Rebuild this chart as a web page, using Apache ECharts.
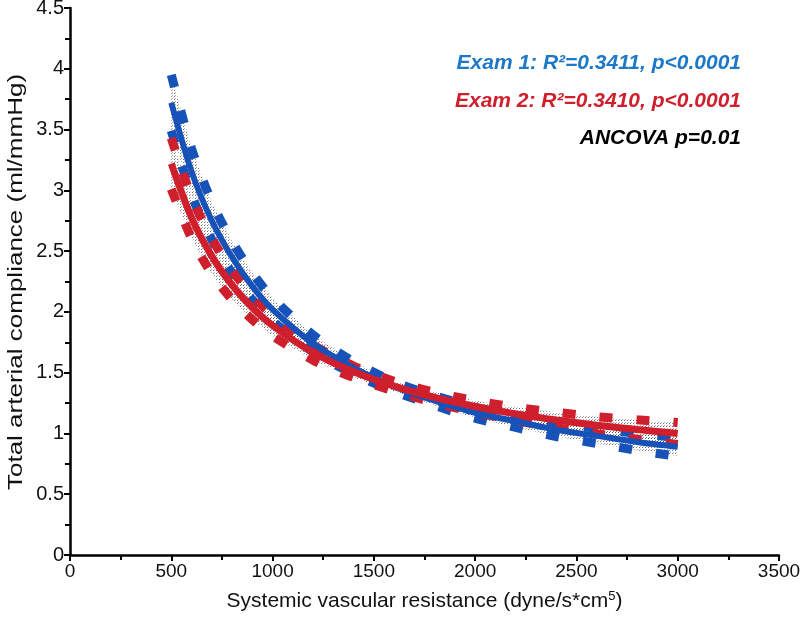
<!DOCTYPE html>
<html><head><meta charset="utf-8">
<script src="https://cdn.jsdelivr.net/npm/echarts@6/dist/echarts.min.js"></script>
<style>html,body{margin:0;padding:0;background:#fff}#c{width:800px;height:622px}</style>
</head><body><div id="c"></div>
<script>
// ---- data ----
const xs        = [500, 600, 700, 800, 900, 1000, 1200, 1400, 1600, 1800, 2000, 2200, 2400, 2600, 2800, 3000];
const exam1Fit  = [3.72, 3.154, 2.75, 2.45, 2.21, 2.02, 1.74, 1.54, 1.385, 1.27, 1.17, 1.10, 1.03, 0.98, 0.93, 0.89];
const exam1Up   = [3.95, 3.344, 2.905, 2.58, 2.32, 2.115, 1.81, 1.59, 1.425, 1.31, 1.215, 1.15, 1.085, 1.042, 1.00, 0.968];
const exam1Lo   = [3.49, 2.964, 2.595, 2.32, 2.10, 1.925, 1.67, 1.49, 1.345, 1.23, 1.125, 1.05, 0.975, 0.918, 0.86, 0.812];
const exam2Fit  = [3.22, 2.776, 2.459, 2.221, 2.036, 1.888, 1.666, 1.507, 1.389, 1.296, 1.222, 1.161, 1.111, 1.068, 1.032, 1.00];
const exam2Up   = [3.43, 2.946, 2.604, 2.341, 2.136, 1.973, 1.729, 1.555, 1.429, 1.338, 1.27, 1.216, 1.174, 1.138, 1.112, 1.09];
const exam2Lo   = [3.01, 2.606, 2.314, 2.101, 1.936, 1.803, 1.603, 1.459, 1.349, 1.254, 1.174, 1.106, 1.048, 0.998, 0.952, 0.91];
const annotations = ['Exam 1: R²=0.3411, p<0.0001', 'Exam 2: R²=0.3410, p<0.0001', 'ANCOVA p=0.01'];
const yTitle = 'Total arterial compliance (ml/mmHg)';

const BLUE = '#1652b8', RED = '#d01f2c';
const FONT = 'Liberation Sans, Arial, Helvetica, sans-serif';

// stipple pattern for confidence-band shading
const pc = document.createElement('canvas');
pc.width = 3; pc.height = 3;
const pctx = pc.getContext('2d');
pctx.fillStyle = 'rgba(70,70,70,0.75)';
pctx.fillRect(0, 0, 1, 1);
pctx.fillStyle = 'rgba(70,70,70,0.45)';
pctx.fillRect(1, 2, 1, 1);

function pairs(ys){ return xs.map((x,i)=>[x, ys[i]]); }

function bandSeries(lo, hi){
  return {
    type: 'custom',
    silent: true,
    z: 1,
    data: xs.map((x,i)=>[x, lo[i], hi[i]]),
    encode: {x: 0, y: [1, 2]},
    renderItem: function(params, api){
      if (params.dataIndex !== 0) return null;
      const top = xs.map((x,i)=>api.coord([x, hi[i]]));
      const bot = xs.map((x,i)=>api.coord([x, lo[i]])).reverse();
      return {
        type: 'polygon',
        shape: {points: top.concat(bot)},
        style: {fill: {image: pc, repeat: 'repeat'}, stroke: null}
      };
    }
  };
}
function dashLine(ys, color){
  return {type:'line', data: pairs(ys), smooth: 0.3, symbol:'none', silent:true, z:3,
    lineStyle:{color: color, width: 9, type: [13, 24], cap: 'butt'}};
}
function fitLine(ys, color, w){
  return {type:'line', data: pairs(ys), smooth: 0.3, symbol:'none', silent:true, z:4,
    lineStyle:{color: color, width: w}};
}

const chart = echarts.init(document.getElementById('c'), null, {renderer:'canvas'});
const annStyle = (txt, col) => ({text: txt, fill: col, font: 'italic bold 21px ' + FONT, align: 'right', verticalAlign: 'middle'});
chart.setOption({
  animation: false,
  backgroundColor: '#fff',
  grid: {left: 70, right: 21, top: 8, bottom: 67, containLabel: false, outerBoundsMode: 'none'},
  xAxis: {
    type: 'value', min: 0, max: 3500, interval: 500,
    name: 'Systemic vascular resistance (dyne/s*cm{sup|5})',
    nameLocation: 'middle', nameGap: 35,
    nameTextStyle: {fontFamily: FONT, fontSize: 21, color: '#111',
      rich: {sup: {fontFamily: FONT, fontSize: 13, color: '#111', padding: [0,0,10,0]}}},
    axisLine: {show: true, lineStyle: {color: '#000', width: 2.5}},
    axisTick: {show: true, length: 6, lineStyle: {color: '#000', width: 2}},
    minorTick: {show: true, splitNumber: 2, length: 5, lineStyle: {color: '#000', width: 2}},
    axisLabel: {fontFamily: FONT, fontSize: 19, color: '#111', margin: 7, formatter: v => String(v)},
    splitLine: {show: false}
  },
  yAxis: {
    type: 'value', min: 0, max: 4.5, interval: 0.5,
    axisLine: {show: true, lineStyle: {color: '#000', width: 2.5}},
    axisTick: {show: true, length: 6, lineStyle: {color: '#000', width: 2}},
    minorTick: {show: true, splitNumber: 2, length: 5, lineStyle: {color: '#000', width: 2}},
    axisLabel: {fontFamily: FONT, fontSize: 20, color: '#111', margin: 6, formatter: v => String(v)},
    splitLine: {show: false}
  },
  graphic: [
    {type:'text', x: 16, y: 282, rotation: Math.PI / 2, scaleX: 1.3,
      style: {text: yTitle, fill: '#111', font: '20px ' + FONT, align: 'center', verticalAlign: 'middle'}},
    {type:'text', x: 741, y: 63, style: annStyle(annotations[0], '#1c78c8')},
    {type:'text', x: 741, y: 101, style: annStyle(annotations[1], '#d01f2c')},
    {type:'text', x: 741, y: 138, style: annStyle(annotations[2], '#000')}
  ],
  series: [
    bandSeries(exam1Lo, exam1Up),
    bandSeries(exam2Lo, exam2Up),
    dashLine(exam1Up, BLUE), dashLine(exam1Lo, BLUE),
    dashLine(exam2Up, RED), dashLine(exam2Lo, RED),
    fitLine(exam1Fit, BLUE, 6),
    fitLine(exam2Fit, RED, 7)
  ]
});
</script></body></html>
